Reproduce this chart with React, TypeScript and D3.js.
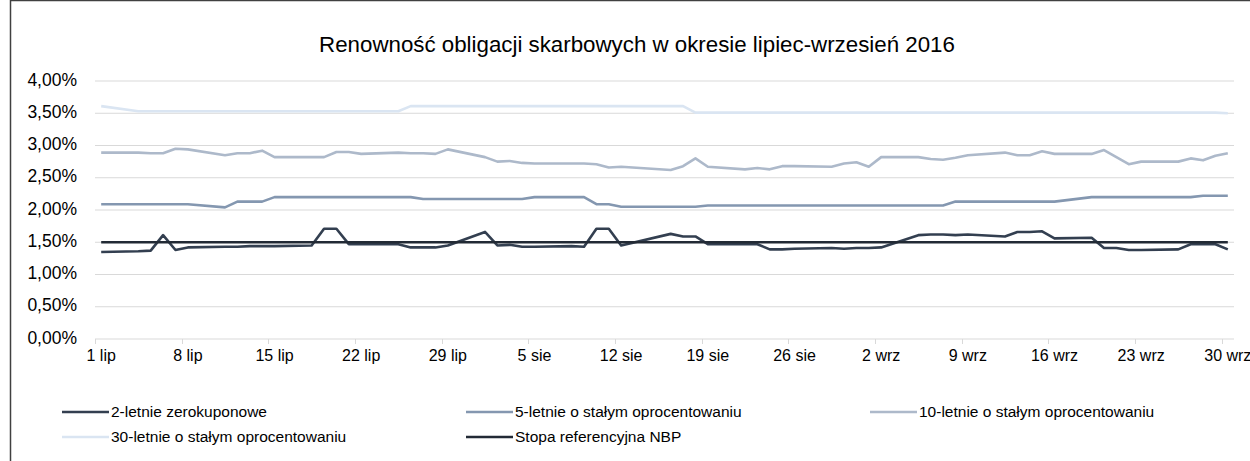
import React from 'react';
import * as d3 from 'd3';

// business days, July - September 2016
const dates = [
  '2016-07-01', '2016-07-04', '2016-07-05', '2016-07-06', '2016-07-07', '2016-07-08',
  '2016-07-11', '2016-07-12', '2016-07-13', '2016-07-14', '2016-07-15',
  '2016-07-18', '2016-07-19', '2016-07-20', '2016-07-21', '2016-07-22',
  '2016-07-25', '2016-07-26', '2016-07-27', '2016-07-28', '2016-07-29',
  '2016-08-01', '2016-08-02', '2016-08-03', '2016-08-04', '2016-08-05',
  '2016-08-08', '2016-08-09', '2016-08-10', '2016-08-11', '2016-08-12',
  '2016-08-16', '2016-08-17', '2016-08-18', '2016-08-19',
  '2016-08-22', '2016-08-23', '2016-08-24', '2016-08-25', '2016-08-26',
  '2016-08-29', '2016-08-30', '2016-08-31', '2016-09-01', '2016-09-02',
  '2016-09-05', '2016-09-06', '2016-09-07', '2016-09-08', '2016-09-09',
  '2016-09-12', '2016-09-13', '2016-09-14', '2016-09-15', '2016-09-16',
  '2016-09-19', '2016-09-20', '2016-09-21', '2016-09-22', '2016-09-23',
  '2016-09-26', '2016-09-27', '2016-09-28', '2016-09-29', '2016-09-30',
];

const twoYear = [
  1.35, 1.36, 1.37, 1.61, 1.38, 1.42,
  1.43, 1.43, 1.44, 1.44, 1.44,
  1.45, 1.71, 1.71, 1.47, 1.47,
  1.47, 1.42, 1.42, 1.42, 1.45,
  1.66, 1.45, 1.46, 1.43, 1.43,
  1.44, 1.43, 1.71, 1.71, 1.45,
  1.63, 1.59, 1.59, 1.47,
  1.47, 1.47, 1.39, 1.39, 1.40,
  1.41, 1.40, 1.41, 1.41, 1.42,
  1.61, 1.62, 1.62, 1.61, 1.62,
  1.59, 1.66, 1.66, 1.67, 1.56,
  1.57, 1.41, 1.41, 1.38, 1.38,
  1.39, 1.47, 1.47, 1.47, 1.39,
];

const fiveYear = [
  2.09, 2.09, 2.09, 2.09, 2.09, 2.09,
  2.04, 2.13, 2.13, 2.13, 2.20,
  2.20, 2.20, 2.20, 2.20, 2.20,
  2.20, 2.20, 2.17, 2.17, 2.17,
  2.17, 2.17, 2.17, 2.17, 2.20,
  2.20, 2.20, 2.09, 2.09, 2.05,
  2.05, 2.05, 2.05, 2.07,
  2.07, 2.07, 2.07, 2.07, 2.07,
  2.07, 2.07, 2.07, 2.07, 2.07,
  2.07, 2.07, 2.07, 2.13, 2.13,
  2.13, 2.13, 2.13, 2.13, 2.13,
  2.20, 2.20, 2.20, 2.20, 2.20,
  2.20, 2.20, 2.22, 2.22, 2.22,
];

const tenYear = [
  2.89, 2.89, 2.88, 2.88, 2.95, 2.94,
  2.85, 2.88, 2.88, 2.92, 2.82,
  2.82, 2.82, 2.90, 2.90, 2.87,
  2.89, 2.88, 2.88, 2.87, 2.94,
  2.82, 2.75, 2.76, 2.73, 2.72,
  2.72, 2.72, 2.71, 2.66, 2.67,
  2.62, 2.68, 2.80, 2.67,
  2.63, 2.65, 2.63, 2.68, 2.68,
  2.67, 2.72, 2.74, 2.67, 2.82,
  2.82, 2.79, 2.78, 2.81, 2.85,
  2.89, 2.85, 2.85, 2.91, 2.87,
  2.87, 2.93, 2.82, 2.71, 2.75,
  2.75, 2.80, 2.77, 2.84, 2.88,
];

const thirtyYear = [
  3.61, 3.53, 3.53, 3.53, 3.53, 3.53,
  3.53, 3.53, 3.53, 3.53, 3.53,
  3.53, 3.53, 3.53, 3.53, 3.53,
  3.53, 3.61, 3.61, 3.61, 3.61,
  3.61, 3.61, 3.61, 3.61, 3.61,
  3.61, 3.61, 3.61, 3.61, 3.61,
  3.61, 3.61, 3.51, 3.51,
  3.51, 3.51, 3.51, 3.51, 3.51,
  3.51, 3.51, 3.51, 3.51, 3.51,
  3.51, 3.51, 3.51, 3.51, 3.51,
  3.51, 3.51, 3.51, 3.51, 3.51,
  3.51, 3.51, 3.51, 3.51, 3.51,
  3.51, 3.51, 3.51, 3.51, 3.50,
];

const nbpRate = dates.map(() => 1.5);

const seriesNames = [
  '2-letnie zerokuponowe',
  '5-letnie o stałym oprocentowaniu',
  '10-letnie o stałym oprocentowaniu',
  '30-letnie o stałym oprocentowaniu',
  'Stopa referencyjna NBP',
];
const seriesColors = ['#333f50', '#8497b0', '#adb9ca', '#dae5f2', '#222a35'];

const tickDates = [
  '2016-07-01', '2016-07-08', '2016-07-15', '2016-07-22', '2016-07-29',
  '2016-08-05', '2016-08-12', '2016-08-19', '2016-08-26',
  '2016-09-02', '2016-09-09', '2016-09-16', '2016-09-23', '2016-09-30',
];
const tickLabels = [
  '1 lip', '8 lip', '15 lip', '22 lip', '29 lip',
  '5 sie', '12 sie', '19 sie', '26 sie',
  '2 wrz', '9 wrz', '16 wrz', '23 wrz', '30 wrz',
];
const yTicks = [0, 0.5, 1, 1.5, 2, 2.5, 3, 3.5, 4];

const title = 'Renowność obligacji skarbowych w okresie lipiec-wrzesień 2016';

const W = 1250;
const H = 461;
const FONT = '"Liberation Sans", Arial, sans-serif';

const parse = d3.utcParse('%Y-%m-%d');
const noon = (s: string) => d3.utcHour.offset(parse(s) as Date, 12);

export default function App() {
  const x = d3
    .scaleUtc()
    .domain([parse('2016-07-01') as Date, parse('2016-10-01') as Date])
    .range([95, 1234]);
  const y = d3.scaleLinear().domain([0, 4]).range([339, 81]);

  const pts = dates.map(noon);
  const line = d3
    .line<number>()
    .x((_, i) => x(pts[i]))
    .y(v => y(v));

  const series = [twoYear, fiveYear, tenYear, thirtyYear, nbpRate];
  const fmt = (v: number) => v.toFixed(2).replace('.', ',') + '%';

  // legend slots: three columns, two rows
  const legendCols = [62, 466, 870];
  const legendRows = [412, 437];

  return (
    <svg
      width={W}
      height={H}
      style={{ position: 'absolute', left: 0, top: 0, display: 'block', background: '#fff' }}
      fontFamily={FONT}
    >
      <rect x={10.5} y={0.5} width={W + 20} height={H + 20} fill="#fff" stroke="#404040" strokeWidth={1.5} />

      <text x={637} y={46} textAnchor="middle" dominantBaseline="middle" fontSize={22.3} fill="#000">
        {title}
      </text>

      {/* gridlines */}
      {yTicks.map(t => (
        <line key={t} x1={95} x2={1234} y1={y(t)} y2={y(t)} stroke="#d9d9d9" strokeWidth={1} />
      ))}
      {yTicks.map(t => (
        <text key={'l' + t} x={77} y={y(t)} textAnchor="end" dominantBaseline="middle" fontSize={17.5} fill="#000">
          {fmt(t)}
        </text>
      ))}

      {/* x axis ticks */}
      {tickDates.map((d, i) => {
        const tx = Math.round(x(parse(d) as Date)) + 0.5;
        return (
          <g key={d}>
            <line x1={tx} x2={tx} y1={y(0)} y2={y(0) + 5} stroke="#d9d9d9" />
            <text x={x(noon(d))} y={357} textAnchor="middle" dominantBaseline="middle" fontSize={16} fill="#000">
              {tickLabels[i]}
            </text>
          </g>
        );
      })}

      {/* series */}
      {series.map((s, i) => (
        <path
          key={seriesNames[i]}
          d={line(s) || ''}
          fill="none"
          stroke={seriesColors[i]}
          strokeWidth={2.6}
          strokeLinejoin="round"
        />
      ))}

      {/* legend */}
      {seriesNames.map((n, i) => {
        const lx = legendCols[i % 3];
        const ly = legendRows[Math.floor(i / 3)];
        return (
          <g key={'lg' + n}>
            <line x1={lx} x2={lx + 47} y1={ly} y2={ly} stroke={seriesColors[i]} strokeWidth={2.6} />
            <text x={lx + 49} y={ly + 1} dominantBaseline="middle" fontSize={15.5} fill="#000">
              {n}
            </text>
          </g>
        );
      })}
    </svg>
  );
}
